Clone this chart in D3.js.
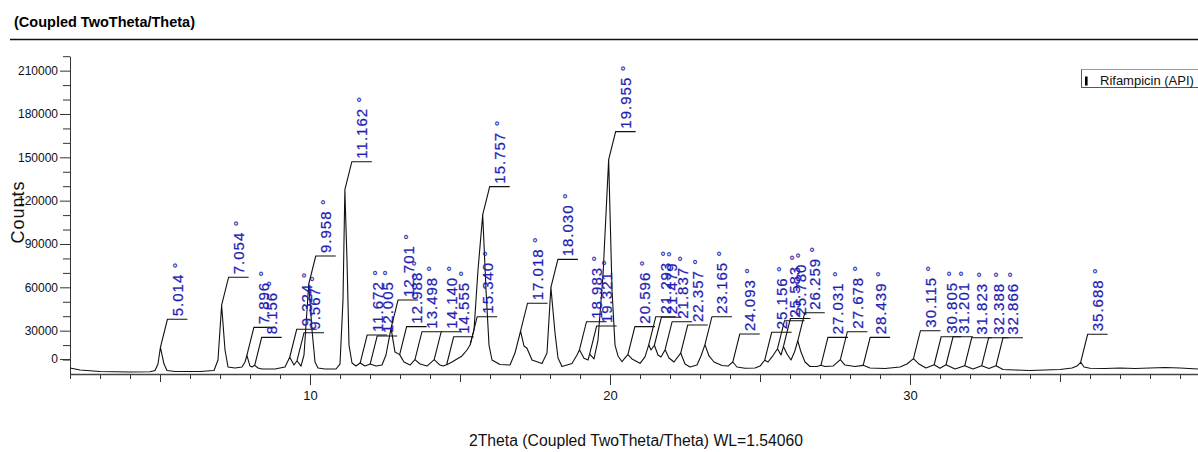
<!DOCTYPE html>
<html>
<head>
<meta charset="utf-8">
<script src="https://cdn.jsdelivr.net/npm/d3@7"></script>
<style>
  html, body { margin: 0; padding: 0; background: #fff; }
  svg { display: block; font-family: "Liberation Sans", Arial, sans-serif; }
</style>
</head>
<body>
<svg id="chart" width="1198" height="452"></svg>
<script>
// ---- data ----
const twoTheta = [2.0,2.333,3.0,4.0,4.667,4.833,4.933,5.014,5.133,5.233,5.5,6.333,6.8,6.933,7.054,7.167,7.267,7.5,7.733,7.833,7.896,8.0,8.067,8.156,8.267,8.4,8.833,9.167,9.324,9.467,9.567,9.7,9.8,9.958,10.067,10.167,10.267,10.5,10.867,11.0,11.1,11.162,11.233,11.3,11.4,11.533,11.672,11.833,12.005,12.2,12.4,12.533,12.701,12.833,12.988,13.133,13.333,13.498,13.667,13.9,14.14,14.333,14.433,14.555,14.733,15.067,15.233,15.34,15.467,15.6,15.757,15.867,15.967,16.067,16.333,16.667,16.833,17.018,17.133,17.233,17.4,17.733,17.9,18.03,18.167,18.267,18.4,18.733,18.9,18.983,19.133,19.267,19.321,19.467,19.6,19.767,19.955,20.067,20.167,20.267,20.4,20.5,20.596,20.733,21.0,21.167,21.293,21.367,21.479,21.6,21.7,21.837,21.967,22.133,22.357,22.5,22.667,22.9,23.033,23.165,23.3,23.467,23.733,23.933,24.093,24.233,24.5,24.833,25.0,25.156,25.267,25.4,25.583,25.7,25.78,25.9,26.033,26.15,26.259,26.367,26.5,26.667,26.9,27.031,27.167,27.433,27.678,27.833,28.167,28.439,28.667,29.167,29.667,29.9,30.115,30.3,30.533,30.805,31.0,31.201,31.5,31.823,32.1,32.388,32.633,32.866,33.1,33.5,34.0,34.5,35.0,35.4,35.567,35.688,35.8,36.0,36.5,37.0,37.5,38.0,38.5,39.0,39.6];
const counts = [4150,2770,1700,1400,1600,2400,6900,18500,6900,2400,1700,1700,2400,9700,47600,16600,4850,4150,4850,8300,12900,5500,4850,6000,4150,3450,3450,4850,11600,6200,9200,5500,13150,62300,30500,8300,4150,3450,3450,6900,51200,127600,79000,20000,7600,5500,7600,5500,6900,5500,6200,13150,31800,15200,13400,8300,6200,9900,6900,5500,9900,6200,5500,6400,8300,12500,16600,20300,30500,72000,110300,58200,20000,9700,6600,6200,14500,29600,19400,17800,9700,7300,14500,60000,28400,11100,5200,7300,13150,16800,10900,9700,13800,10400,23500,68500,148400,58200,20000,12500,8500,11100,13400,10400,7400,11800,20300,16600,19900,13150,11800,16800,11100,8300,14500,6900,4850,6200,12500,20300,12500,8300,5900,5500,8300,4850,3950,4150,5500,9500,8300,11800,17500,13150,19000,13800,9700,15200,23000,15200,8300,5200,5200,6000,5200,5500,9900,6200,5200,6000,4150,3800,4850,6900,10600,6900,4150,6400,3950,6400,3450,5700,3450,5700,3800,5700,3100,2770,2400,2770,3100,4150,5500,8100,4850,3950,3800,4150,3800,4150,4500,4150,3450];

const peakPositions = [5.014,7.054,7.896,8.156,9.324,9.567,9.958,11.162,11.672,12.005,12.701,12.988,13.498,14.140,14.555,15.340,15.757,17.018,18.030,18.983,19.321,19.955,20.596,21.293,21.479,21.837,22.357,23.165,24.093,25.156,25.583,25.780,26.259,27.031,27.678,28.439,30.115,30.805,31.201,31.823,32.388,32.866,35.688];
const peakCounts = [18500,47600,12900,6000,11600,9200,62300,127600,7600,6900,31800,13400,9900,9900,6400,20300,110300,29600,60000,16800,13800,148400,13400,20300,19900,16800,14500,20300,8300,9500,17500,19000,23000,6000,9900,6000,10600,6400,6400,5700,5700,5700,8100];

const yMajorTicks = [0,30000,60000,90000,120000,150000,180000,210000];
const yMinorTicks = [10000,20000,40000,50000,70000,80000,100000,110000,130000,140000,160000,170000,190000,200000,220000];
const xLabelTicks = [10,20,30];
const xMidTicks = [5,15,25,35];
const xMinorTicks = [2,3,4,6,7,8,9,11,12,13,14,16,17,18,19,21,22,23,24,26,27,28,29,31,32,33,34,36,37,38,39];

const titleText = "(Coupled TwoTheta/Theta)";
const xTitle = "2Theta (Coupled TwoTheta/Theta) WL=1.54060";
const yTitle = "Counts";
const legendLabel = "Rifampicin (API)";

// ---- layout ----
const svg = d3.select("#chart");
const x = d3.scaleLinear().domain([2, 39.6]).range([70, 1198]);
const y = d3.scaleLinear().domain([0, 220000]).range([374, 56.2]);
const blue = "#1f1fb2";

// header
svg.append("text").attr("x", 14).attr("y", 27)
  .attr("font-size", 15.5).attr("font-weight", "bold")
  .attr("textLength", 181).attr("lengthAdjust", "spacingAndGlyphs")
  .text(titleText);
svg.append("line").attr("x1", 10).attr("x2", 1198).attr("y1", 39.5).attr("y2", 39.5)
  .attr("stroke", "#111").attr("stroke-width", 1.6);

// y axis
const yMinor = svg.append("g").attr("transform", "translate(70,0)")
  .call(d3.axisLeft(y).tickValues(yMinorTicks).tickSize(7).tickFormat(""));
yMinor.select(".domain").remove();
const yAxis = svg.append("g").attr("transform", "translate(70,0)")
  .call(d3.axisLeft(y).tickValues(yMajorTicks).tickSize(10).tickPadding(2).tickSizeOuter(0).tickFormat(d3.format("d")));
yAxis.selectAll("text").attr("font-size", 12).attr("fill", "#111").attr("font-family", "Liberation Sans, Arial, sans-serif");
// zero label of the instrument software sits one minor step above the axis line
yAxis.selectAll(".tick").filter(d => d === 0)
  .attr("transform", `translate(0,${y(10000)})`);
svg.selectAll(".tick line").attr("stroke", "#333");
yAxis.select(".domain").attr("stroke", "#333");

// x axis
const xg = svg.append("g").attr("transform", "translate(0,374)");
xg.append("g").call(d3.axisBottom(x).tickValues(xMinorTicks).tickSize(5).tickFormat("")).select(".domain").remove();
xg.append("g").call(d3.axisBottom(x).tickValues(xMidTicks).tickSize(8).tickFormat("")).select(".domain").remove();
const xMain = xg.append("g").call(d3.axisBottom(x).tickValues(xLabelTicks).tickSize(11).tickSizeOuter(0).tickPadding(6).tickFormat(d3.format("d")));
xMain.selectAll("text").attr("font-size", 13).attr("fill", "#111").attr("font-family", "Liberation Sans, Arial, sans-serif");
xg.selectAll("line").attr("stroke", "#333");
xMain.select(".domain").attr("stroke", "#444").attr("stroke-width", 1.4);

// titles
svg.append("text").attr("x", 636).attr("y", 446).attr("text-anchor", "middle")
  .attr("font-size", 16).attr("textLength", 334).attr("lengthAdjust", "spacingAndGlyphs")
  .attr("fill", "#111").text(xTitle);
svg.append("text").attr("transform", "translate(24,212) rotate(-90)").attr("text-anchor", "middle")
  .attr("font-size", 18).attr("letter-spacing", 1).attr("fill", "#111").text(yTitle);

// profile
const pts = twoTheta.map((t, i) => [t, counts[i]]);
svg.append("path").datum(pts)
  .attr("fill", "none").attr("stroke", "#111").attr("stroke-width", 1.1)
  .attr("stroke-linejoin", "round")
  .attr("d", d3.line().x(d => x(d[0])).y(d => y(d[1])));

// peak labels
const peaks = peakPositions.map((p, i) => ({ p, c: peakCounts[i] }));
const pg = svg.append("g").selectAll("g").data(peaks).join("g");
pg.append("path")
  .attr("fill", "none").attr("stroke", "#111").attr("stroke-width", 1.1)
  .attr("d", d => {
    const px = x(d.p), py = y(d.c);
    return `M${px},${py}L${px + 7},${py - 28}L${px + 27},${py - 28}`;
  });
pg.append("text")
  .attr("transform", d => `translate(${x(d.p) + 22.5},${y(d.c) - 31}) rotate(-90)`)
  .attr("font-size", 15).attr("letter-spacing", 1).attr("fill", blue)
  .attr("stroke", blue).attr("stroke-width", 0.25)
  .text(d => d.p.toFixed(3) + " °");

// legend
const lg = svg.append("g");
lg.append("rect").attr("x", 1081.5).attr("y", 69.5).attr("width", 130).attr("height", 18)
  .attr("fill", "#fff").attr("stroke", "#9a9a9a");
lg.append("line").attr("x1", 1081.5).attr("x2", 1081.5).attr("y1", 69.5).attr("y2", 87.5).attr("stroke", "#555");
lg.append("line").attr("x1", 1081.5).attr("x2", 1198).attr("y1", 87.5).attr("y2", 87.5).attr("stroke", "#555");
lg.append("rect").attr("x", 1085).attr("y", 76.5).attr("width", 2.6).attr("height", 9).attr("fill", "#000");
lg.append("text").attr("x", 1100).attr("y", 84.5).attr("font-size", 13).attr("fill", "#111").text(legendLabel);
</script>
</body>
</html>
